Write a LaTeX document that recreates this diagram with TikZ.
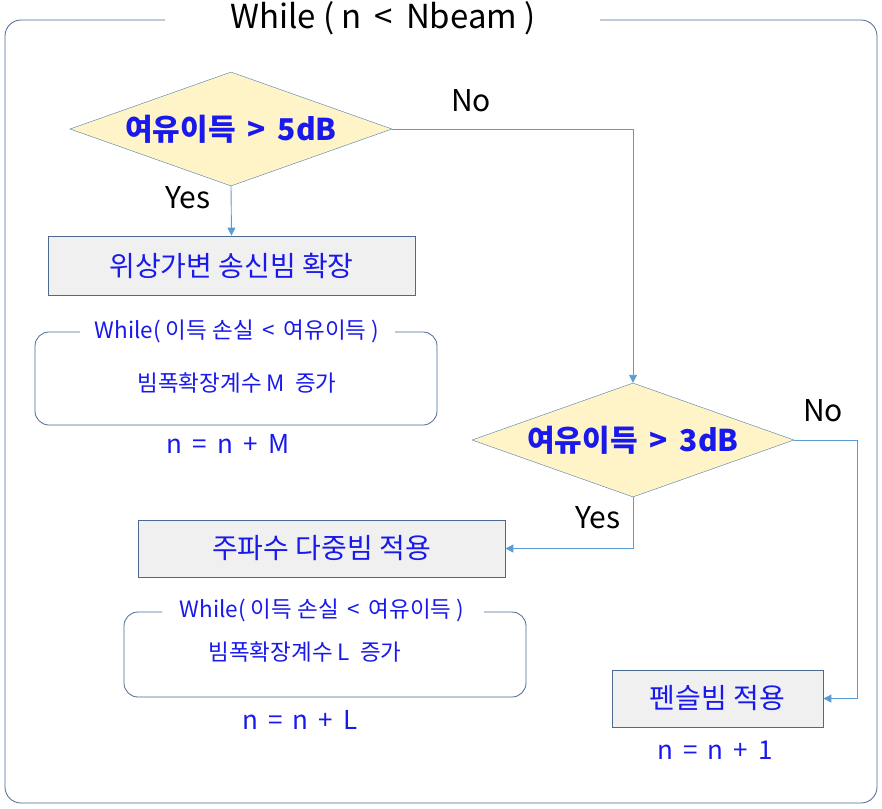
\documentclass[tikz,border=0pt]{standalone}
\usepackage{fontspec}
\setmainfont{Noto Sans CJK KR}
\usetikzlibrary{shapes.geometric,arrows.meta}
\definecolor{tblue}{RGB}{25,25,235}
\definecolor{lblue}{RGB}{91,155,213}
\definecolor{frm}{RGB}{75,105,145}
\definecolor{dfill}{RGB}{255,244,200}
\definecolor{bfill}{RGB}{240,240,240}
\tikzset{
 dec/.style={diamond,draw=lblue!80!black,fill=dfill,inner sep=0pt,minimum width=322pt,minimum height=114pt,aspect=2.8,font=\fontsize{30}{32}\selectfont\bfseries,text=tblue},
 procbox/.style={draw=frm,fill=bfill,line width=0.8pt,inner sep=0pt,font=\fontsize{28}{30}\selectfont,text=tblue},
 conn/.style={draw=lblue,line width=0.9pt,-{Triangle[length=8pt,width=8pt]}},
 lbl/.style={font=\fontsize{30}{32}\selectfont,text=black},
 small/.style={font=\fontsize{22.5}{24}\selectfont,text=tblue},
 nn/.style={font=\fontsize{26}{28}\selectfont,text=tblue},
 loopfr/.style={draw=frm,line width=0.8pt,rounded corners=14pt}
}
\begin{document}
\begin{tikzpicture}[x=1pt,y=-1pt]
\useasboundingbox (0,0) rectangle (882,808);
\draw[loopfr,rounded corners=16pt] (165,20) -- (5,20) -- (5,803) -- (877,803) -- (877,20) -- (600,20);
\node[font=\fontsize{33}{35}\selectfont] (title) at (383,18) {While ( n\, < \,Nbeam )};
\node[dec] (d1) at (231,129) {여유이득 \,> \,5dB};
\node[dec] (d2) at (633,440) {여유이득 \,> \,3dB};
\node[procbox,minimum width=367pt,minimum height=59pt] (b1) at (231.5,265.5) {위상가변 송신빔 확장};
\node[procbox,minimum width=367pt,minimum height=57pt] (b2) at (321.5,548.5) {주파수 다중빔 적용};
\node[procbox,minimum width=211pt,minimum height=57pt] (b3) at (717.5,698.5) {펜슬빔 적용};
\draw[loopfr] (80,332) -- (35,332) -- (35,425) -- (437,425) -- (437,332) -- (395,332);
\node[small] (l1t) at (237,331) {While( 이득 손실 \,< \,여유이득 )};
\node[small] (l1i) at (237,383) {빔폭확장계수 M \ 증가};
\node[nn] (n1) at (228,444) {n \,= \,n \,+ \,M};
\draw[loopfr] (162,612) -- (124,612) -- (124,697) -- (526,697) -- (526,612) -- (484,612);
\node[small] (l2t) at (322,610) {While( 이득 손실 \,< \,여유이득 )};
\node[small] (l2i) at (305,652) {빔폭확장계수 L \ 증가};
\node[nn] (n2) at (300,720) {n \,= \,n \,+ \,L};
\node[nn] (n3) at (715,750) {n \,= \,n \,+ \,1};
\node[lbl] (yes1) at (188,198) {Yes};
\node[lbl] (no1) at (471,101) {No};
\node[lbl] (yes2) at (598,518) {Yes};
\node[lbl] (no2) at (823,411) {No};
\draw[conn] (d1.south) -- (b1.north);
\draw[conn] (d1.east) -| (d2.north);
\draw[conn] (d2.south) |- (b2.east);
\draw[conn] (d2.east) -- (857,440) |- (b3.east);
\end{tikzpicture}
\end{document}
